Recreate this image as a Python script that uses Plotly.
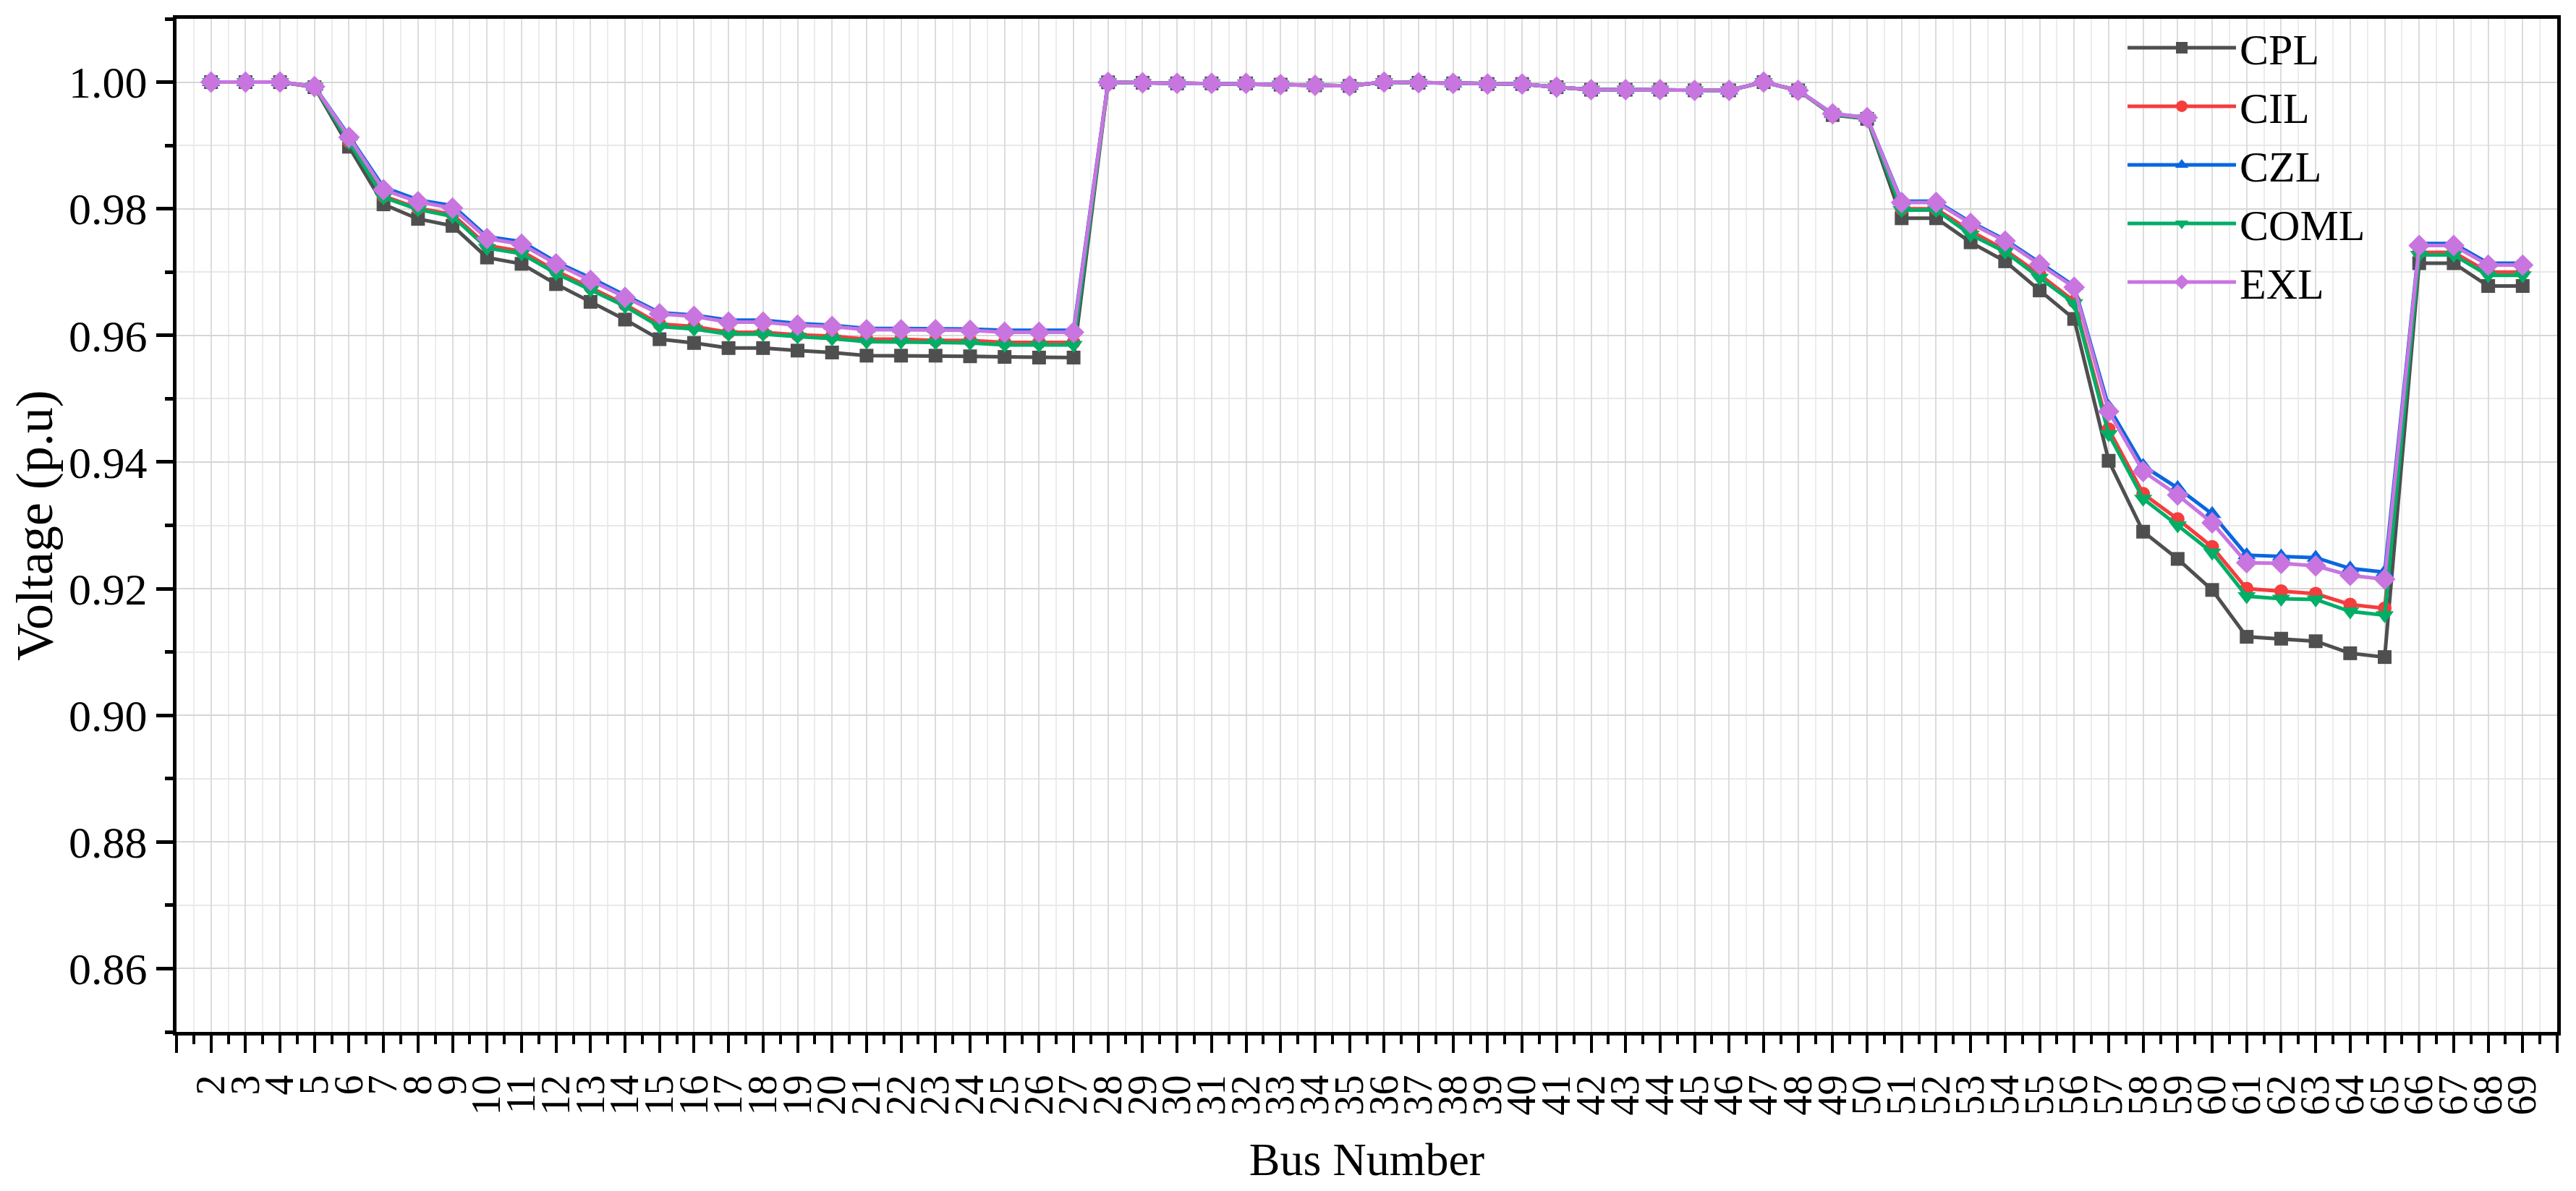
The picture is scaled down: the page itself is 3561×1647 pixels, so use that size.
import plotly.graph_objects as go

bus_numbers = list(range(2, 70))
tick_positions = list(range(1, 71))
tick_labels = [""] + [str(b) for b in bus_numbers] + [""]

cpl = [1.0000, 1.0000, 1.0000, 0.9992, 0.9898, 0.9807, 0.9784, 0.9773, 0.9723, 0.9713,
       0.9681, 0.9653, 0.9625, 0.9594, 0.9588, 0.9580, 0.9580, 0.9576, 0.9573, 0.9568,
       0.9568, 0.9568, 0.9567, 0.9566, 0.9565, 0.9565,
       0.99997, 0.9999, 0.9998, 0.9998, 0.9998, 0.9996, 0.9995, 0.9994, 1.0000, 0.9999,
       0.9998, 0.9997, 0.9997, 0.9992, 0.9988, 0.9988, 0.9988, 0.9987, 0.9987, 1.0000,
       0.9987, 0.9948, 0.9942,
       0.9785, 0.9785, 0.9747, 0.9717, 0.9671, 0.9626, 0.9402, 0.9290, 0.9247, 0.9198,
       0.9124, 0.9121, 0.9117, 0.9098, 0.9092, 0.9714, 0.9714, 0.9678, 0.9678]

cil = [1.0000, 1.0000, 1.0000, 0.9993, 0.9906, 0.9820, 0.9801, 0.9791, 0.9742, 0.9733,
       0.9702, 0.9676, 0.9649, 0.9618, 0.9614, 0.9605, 0.9605, 0.9601, 0.9599, 0.9594,
       0.9594, 0.9592, 0.9592, 0.9589, 0.9589, 0.9589,
       0.99997, 0.9999, 0.9998, 0.9998, 0.9998, 0.9996, 0.9995, 0.9994, 1.0000, 0.9999,
       0.9998, 0.9997, 0.9997, 0.9992, 0.9988, 0.9988, 0.9988, 0.9987, 0.9987, 1.0000,
       0.9987, 0.9949, 0.9943,
       0.9800, 0.9800, 0.9765, 0.9735, 0.9696, 0.9654, 0.9452, 0.9350, 0.9310, 0.9266,
       0.9200, 0.9196, 0.9192, 0.9175, 0.9169, 0.9731, 0.9731, 0.9700, 0.9700]

czl = [1.0000, 1.0000, 1.0000, 0.9993, 0.9915, 0.9834, 0.9814, 0.9805, 0.9756, 0.9748,
       0.9716, 0.9691, 0.9664, 0.9636, 0.9632, 0.9624, 0.9624, 0.9619, 0.9616, 0.9611,
       0.9611, 0.9611, 0.9610, 0.9608, 0.9608, 0.9608,
       0.99997, 0.9999, 0.9998, 0.9998, 0.9998, 0.9996, 0.9995, 0.9994, 1.0000, 0.9999,
       0.9998, 0.9997, 0.9997, 0.9992, 0.9988, 0.9988, 0.9988, 0.9987, 0.9987, 1.0000,
       0.9987, 0.9950, 0.9944,
       0.9812, 0.9812, 0.9779, 0.9751, 0.9715, 0.9678, 0.9487, 0.9394, 0.9359, 0.9318,
       0.9253, 0.9251, 0.9249, 0.9232, 0.9226, 0.9745, 0.9745, 0.9714, 0.9714]

coml = [1.0000, 1.0000, 1.0000, 0.9993, 0.9905, 0.9818, 0.9799, 0.9788, 0.9738, 0.9729,
        0.9698, 0.9672, 0.9646, 0.9614, 0.9610, 0.9602, 0.9602, 0.9598, 0.9595, 0.9590,
        0.9590, 0.9589, 0.9588, 0.9585, 0.9585, 0.9585,
        0.99997, 0.9999, 0.9998, 0.9998, 0.9998, 0.9996, 0.9995, 0.9994, 1.0000, 0.9999,
        0.9998, 0.9997, 0.9997, 0.9992, 0.9988, 0.9988, 0.9988, 0.9987, 0.9987, 1.0000,
        0.9987, 0.9949, 0.9943,
        0.9798, 0.9798, 0.9759, 0.9732, 0.9691, 0.9651, 0.9444, 0.9342, 0.9300, 0.9257,
        0.9188, 0.9184, 0.9183, 0.9164, 0.9158, 0.9727, 0.9727, 0.9695, 0.9695]

exl = [1.0000, 1.0000, 1.0000, 0.9993, 0.9913, 0.9830, 0.9811, 0.9801, 0.9753, 0.9744,
       0.9713, 0.9687, 0.9660, 0.9634, 0.9630, 0.9621, 0.9621, 0.9616, 0.9614, 0.9609,
       0.9609, 0.9609, 0.9608, 0.9605, 0.9605, 0.9605,
       0.99997, 0.9999, 0.9998, 0.9998, 0.9998, 0.9996, 0.9995, 0.9994, 1.0000, 0.9999,
       0.9998, 0.9997, 0.9997, 0.9992, 0.9988, 0.9988, 0.9988, 0.9987, 0.9987, 1.0000,
       0.9987, 0.9950, 0.9944,
       0.9810, 0.9810, 0.9777, 0.9749, 0.9712, 0.9676, 0.9480, 0.9385, 0.9348, 0.9304,
       0.9241, 0.9240, 0.9236, 0.9221, 0.9215, 0.9742, 0.9742, 0.9711, 0.9711]

series_names = ["CPL", "CIL", "CZL", "COML", "EXL"]
series_values = [cpl, cil, czl, coml, exl]
series_colors = ["#4f4f4f", "#f53d3d", "#0a66e0", "#00ae66", "#c875e0"]
series_symbols = ["square", "circle", "triangle-up", "triangle-down", "diamond"]
series_sizes = [19, 19, 22, 22, 23]

FONT = "Liberation Serif, Times New Roman, serif"

fig = go.Figure()
for name, vals, col, sym, sz in zip(series_names, series_values, series_colors,
                                    series_symbols, series_sizes):
    assert len(vals) == len(bus_numbers)
    fig.add_trace(go.Scatter(
        x=bus_numbers, y=vals, name=name, mode="lines+markers",
        line=dict(color=col, width=5),
        marker=dict(symbol=sym, size=sz, color=col, line=dict(width=0)),
    ))

fig.update_layout(
    width=3561, height=1647,
    margin=dict(l=236, r=34, t=18, b=228, autoexpand=False),
    paper_bgcolor="white", plot_bgcolor="white",
    font=dict(family=FONT, size=56, color="black"),
    showlegend=True,
    legend=dict(x=0.818, y=1.004, xanchor="left", yanchor="top",
                bgcolor="rgba(0,0,0,0)", borderwidth=0,
                font=dict(family=FONT, size=60, color="black"),
                tracegroupgap=0, itemwidth=150),
)

fig.update_xaxes(
    range=[1, 70],
    tickmode="array", tickvals=tick_positions, ticktext=tick_labels,
    tickangle=-90,
    ticks="outside", ticklen=24, tickwidth=4, tickcolor="black",
    ticklabelstandoff=8,
    tickfont=dict(family=FONT, size=56, color="black"),
    showline=True, linewidth=5, linecolor="black", mirror=True,
    showgrid=True, gridcolor="#dcdcdc", gridwidth=2,
    minor=dict(tickmode="array", tickvals=[i + 0.5 for i in range(1, 70)],
               ticks="outside", ticklen=12, tickwidth=4, tickcolor="black",
               showgrid=True, gridcolor="#ececec", gridwidth=1.5),
    zeroline=False,
    title=dict(text="Bus Number", font=dict(family=FONT, size=64, color="black"),
               standoff=40),
)

fig.update_yaxes(
    range=[0.85, 1.01],
    tickmode="linear", tick0=0.86, dtick=0.02, tickformat=".2f",
    ticks="outside", ticklen=23, tickwidth=4.5, tickcolor="black",
    tickfont=dict(family=FONT, size=62, color="black"),
    showline=True, linewidth=5, linecolor="black", mirror=True,
    showgrid=True, gridcolor="#d6d6d6", gridwidth=2,
    minor=dict(tickmode="linear", tick0=0.85, dtick=0.01,
               ticks="outside", ticklen=11, tickwidth=4.5, tickcolor="black",
               showgrid=True, gridcolor="#e8e8e8", gridwidth=1.5),
    zeroline=False,
    title=dict(text="Voltage (p.u)", font=dict(family=FONT, size=72, color="black"),
               standoff=4),
)

fig.write_html("out.html")
